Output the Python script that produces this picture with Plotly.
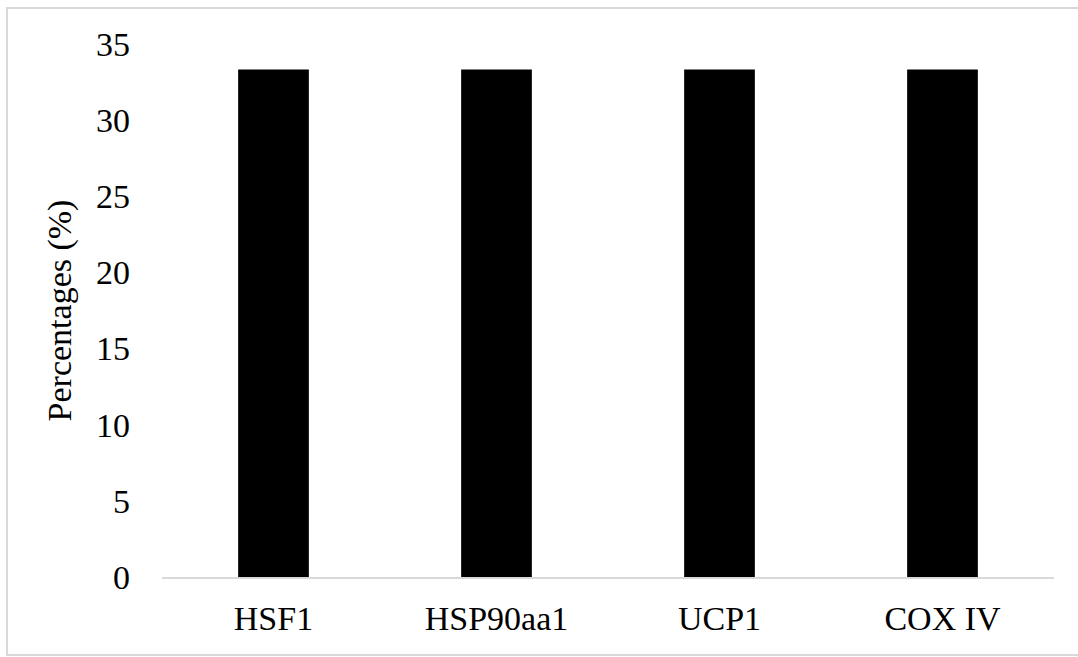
import plotly.graph_objects as go

categories = ["HSF1", "HSP90aa1", "UCP1", "COX IV"]
values = [33.33, 33.33, 33.33, 33.33]
y_ticks = [0, 5, 10, 15, 20, 25, 30, 35]

W, H = 1078, 657
L, R, T, B = 162, 24, 44, 80
pw, ph = W - L - R, H - T - B

fig = go.Figure(go.Bar(x=categories, y=values, marker=dict(color="black", line=dict(width=0))))

font = "Liberation Serif, Times New Roman, serif"
fig.update_layout(
    width=W, height=H,
    margin=dict(l=L, r=R, t=T, b=B),
    plot_bgcolor="white", paper_bgcolor="white",
    bargap=0.683,
    showlegend=False,
    font=dict(family=font, color="black", size=34),
)
fig.update_yaxes(
    range=[0, 35], tickvals=y_ticks, showgrid=False, zeroline=False, showline=False,
    ticks="", ticklabelstandoff=31,
    title=dict(text="Percentages (%)", font=dict(size=34, family=font), standoff=14),
)
fig.update_xaxes(
    showgrid=False, showline=True, linecolor="#d9d9d9", linewidth=2, ticks="",
    ticklabelstandoff=10,
)
# outer chart border
fig.add_shape(type="rect", xref="paper", yref="paper",
              x0=(7 - L) / pw, x1=(1082 - L) / pw,
              y0=(H - B - 655) / ph, y1=(H - B - 8) / ph,
              line=dict(color="#d9d9d9", width=2), fillcolor="rgba(0,0,0,0)", layer="below")

fig.write_html("out.html")
